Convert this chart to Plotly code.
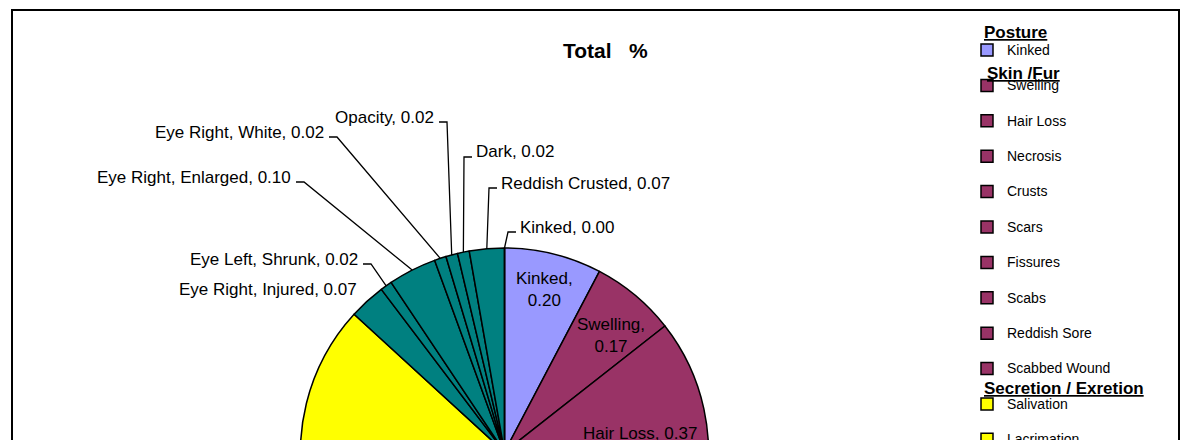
import math
import plotly.graph_objects as go

# ---------------- data ----------------
categories = ["Kinked", "Swelling", "Hair Loss", "Necrosis", "Crusts", "Scars", "Fissures",
              "Scabs", "Reddish Sore", "Scabbed Wound", "Salivation", "Lacrimation",
              "Eye Right, Injured", "Eye Left, Shrunk", "Eye Right, Enlarged",
              "Eye Right, White", "Opacity", "Dark", "Reddish Crusted", "Kinked"]
groups = (["Posture"] + ["Skin /Fur"] * 9 + ["Secretion / Exretion"] * 2 + ["Eye / Tail"] * 8)
values = [0.198, 0.172, 0.37, 0.20, 0.12, 0.10, 0.10, 0.12, 0.12, 0.10, 0.22, 0.41,
          0.074, 0.024, 0.098, 0.024, 0.024, 0.024, 0.071, 0.00]
group_headings = ["Posture", "Skin /Fur", "Secretion / Exretion"]
title_text = "Total\u00a0\u00a0\u00a0%"

# ---------------- style / layout ----------------
W, H = 1182, 900
CX, CY, R = 504.5, 452.0, 204.0
FONT = "Arial, 'Liberation Sans', sans-serif"
group_colors = {"Posture": "#9999FF", "Skin /Fur": "#993366",
                "Secretion / Exretion": "#FFFF00", "Eye / Tail": "#008080"}

# inside labels: index -> (radius fraction, angle shift deg, wrap)
inside_place = {0: (0.82, 0.0, True), 1: (0.775, 2.5, True), 2: (0.67, 4.5, False)}
# outside labels: index -> (side, text edge x px, text centre y px, leader)
outside_place = {12: ("left", 358, 289, False), 13: ("left", 359, 259, True),
                 14: ("left", 292, 177, True), 15: ("left", 325, 132, True),
                 16: ("left", 435, 117, True), 17: ("right", 475, 152, True),
                 18: ("right", 500, 183, True), 19: ("right", 519, 227, True)}
heading_place = {"Posture": (983, 32), "Skin /Fur": (986, 73), "Secretion / Exretion": (983, 388)}


def px(x):
    return x / W


def py(y):
    return 1 - y / H


# unique legend/slice labels (duplicates get invisible padding)
seen = {}
legend_labels = []
for c in categories:
    n = seen.get(c, 0)
    seen[c] = n + 1
    legend_labels.append("<span style='font-size:14px'>%s</span><br>\u00a0%s" % (c, "\u00a0" * n))

colors = [group_colors[g] for g in groups]

fig = go.Figure(go.Pie(
    labels=legend_labels, values=values, sort=False, direction="clockwise", rotation=0,
    marker=dict(colors=colors, line=dict(color="black", width=1.5)),
    textinfo="none", hoverinfo="skip",
    domain=dict(x=[px(CX - R), px(CX + R)], y=[py(CY + R), py(CY - R)]),
))

# geometry of slices derived from the values
total = sum(values)
k = 360.0 / total
cum = 0.0
mids = []
for v in values:
    mids.append((cum + v / 2.0) * k)
    cum += v


def polar(theta_deg, r):
    t = math.radians(theta_deg)
    return CX + r * math.sin(t), CY - r * math.cos(t)


annotations = []
shapes = []

annotations.append(dict(text="<b>%s</b>" % title_text, x=px(605), y=py(50), xref="paper", yref="paper",
                        xanchor="center", yanchor="middle", showarrow=False,
                        font=dict(size=21, family=FONT, color="black")))

for i, (rf, dth, wrap) in inside_place.items():
    x, y = polar(mids[i] + dth, rf * R)
    sep = ",<br>" if wrap else ", "
    annotations.append(dict(text="%s%s%.2f" % (categories[i], sep, values[i]), x=px(x), y=py(y),
                            xref="paper", yref="paper", xanchor="center", yanchor="middle",
                            showarrow=False, borderpad=0, align="center",
                            font=dict(size=17, family=FONT, color="black")))

for i, (side, ex, ey, leader) in outside_place.items():
    annotations.append(dict(text="%s, %.2f" % (categories[i], values[i]), x=px(ex), y=py(ey),
                            xref="paper", yref="paper", xanchor="right" if side == "left" else "left",
                            yanchor="middle", showarrow=False, borderpad=0,
                            font=dict(size=17, family=FONT, color="black")))
    if leader:
        tx, ty = polar(mids[i], R)
        sy = ey + 5
        if side == "left":
            a, b = ex + 4, ex + 12
        else:
            a, b = ex - 3, ex - 11
        path = "M %f,%f L %f,%f L %f,%f" % (px(a), py(sy), px(b), py(sy), px(tx), py(ty))
        shapes.append(dict(type="path", path=path, xref="paper", yref="paper",
                           line=dict(color="black", width=1.3)))

for g in group_headings:
    hx, hy = heading_place[g]
    annotations.append(dict(text="<b><u>%s</u></b>" % g, x=px(hx), y=py(hy), xref="paper", yref="paper",
                            xanchor="left", yanchor="middle", showarrow=False, borderpad=0,
                            font=dict(size=17, family=FONT, color="black")))

shapes.append(dict(type="rect", xref="paper", yref="paper", x0=px(12), x1=px(1179), y0=0.0, y1=py(10),
                   line=dict(color="black", width=2), fillcolor="rgba(0,0,0,0)"))

fig.update_layout(
    width=W, height=H, margin=dict(l=0, r=0, t=0, b=0),
    paper_bgcolor="white", plot_bgcolor="white",
    font=dict(family=FONT, color="black"),
    showlegend=True,
    legend=dict(x=px(967), xanchor="left", y=py(35.4), yanchor="top", valign="top",
                font=dict(size=12.46, family=FONT, color="black"),
                bgcolor="rgba(0,0,0,0)", borderwidth=0),
    annotations=annotations, shapes=shapes,
)

post = ("document.documentElement.style.overflow='hidden';"
        "document.body.style.margin='0';document.body.style.overflow='hidden';"
        "var gd=document.getElementById('{plot_id}');"
        "gd.parentElement.style.height='440px';gd.parentElement.style.overflow='hidden';")
fig.write_html("out.html", post_script=post, config={"displayModeBar": False})
